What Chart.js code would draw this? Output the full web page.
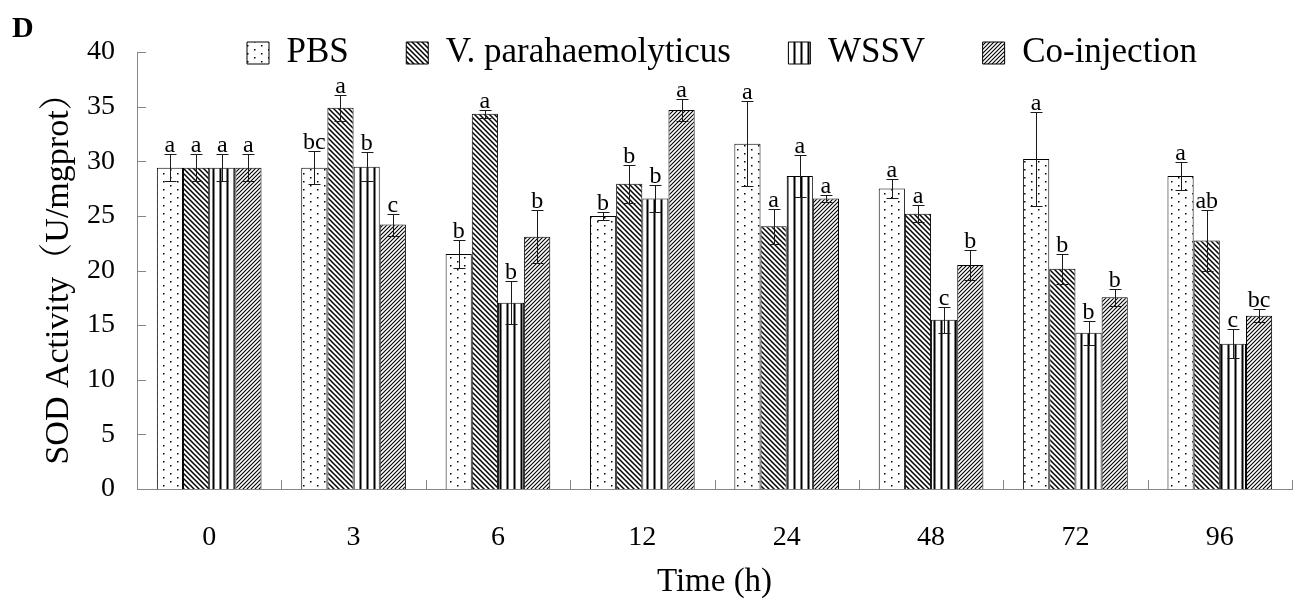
<!DOCTYPE html>
<html>
<head>
<meta charset="utf-8">
<script src="https://cdn.jsdelivr.net/npm/chart.js@4.4.1/dist/chart.umd.min.js"></script>
<style>
html,body{margin:0;padding:0;background:#fff;}
#wrap{width:1304px;height:599px;}
</style>
</head>
<body>
<div id="wrap"><canvas id="c" width="1304" height="599"></canvas></div>
<script>
// ---------- data ----------
const categories = ['0', '3', '6', '12', '24', '48', '72', '96'];
const seriesNames = ['PBS', 'V. parahaemolyticus', 'WSSV', 'Co-injection'];

const pbs      = [29.4, 29.4, 21.5, 25.0, 31.6, 27.5, 30.2, 28.65];
const pbsErr   = [1.25, 1.5, 1.3, 0.35, 3.9, 0.85, 4.3, 1.25];
const pbsSig   = ['a', 'bc', 'b', 'b', 'a', 'a', 'a', 'a'];

const vp       = [29.4, 34.9, 34.35, 27.95, 24.05, 25.2, 20.15, 22.75];
const vpErr    = [1.25, 1.2, 0.35, 1.75, 1.6, 0.75, 1.35, 2.8];
const vpSig    = ['a', 'a', 'a', 'b', 'a', 'a', 'b', 'ab'];

const wssv     = [29.4, 29.5, 17.05, 26.6, 28.65, 15.5, 14.3, 13.3];
const wssvErr  = [1.25, 1.35, 1.95, 1.2, 1.95, 1.2, 1.1, 1.35];
const wssvSig  = ['a', 'b', 'b', 'b', 'a', 'c', 'b', 'c'];

const co       = [29.4, 24.2, 23.1, 34.7, 26.6, 20.5, 17.55, 15.85];
const coErr    = [1.25, 1.0, 2.4, 1.0, 0.3, 1.4, 0.8, 0.6];
const coSig    = ['a', 'c', 'b', 'a', 'a', 'b', 'b', 'bc'];

const yMin = 0, yMax = 40, yStep = 5;
const xTitle = 'Time (h)';
const yTitle = 'SOD Activity（U/mgprot）';
const panelLabel = 'D';

// ---------- style ----------
const FONT = "'Liberation Serif', 'Times New Roman', 'Noto Serif CJK SC', 'Noto Sans CJK SC', serif";
const AXIS = '#868686';

function tile(w, h, draw) {
  const c = document.createElement('canvas');
  c.width = w; c.height = h;
  const g = c.getContext('2d');
  g.fillStyle = '#fff';
  g.fillRect(0, 0, w, h);
  draw(g, w, h);
  return g.createPattern(c, 'repeat');
}
const patDots = tile(14, 8, (g) => {
  g.fillStyle = '#000';
  g.fillRect(2, 1, 1.5, 1.5);
  g.fillRect(9, 5, 1.5, 1.5);
});
const patBack = tile(5, 5, (g, t) => {
  g.strokeStyle = '#000'; g.lineWidth = 1.5;
  g.beginPath();
  g.moveTo(-1, -1); g.lineTo(t + 1, t + 1);
  g.moveTo(-1, t - 1); g.lineTo(1, t + 1);
  g.moveTo(t - 1, -1); g.lineTo(t + 1, 1);
  g.stroke();
});
const patVert = tile(7, 4, (g) => {
  g.fillStyle = '#000';
  g.fillRect(2.5, 0, 2, 4);
});
const patFwd = tile(4, 4, (g, t) => {
  g.strokeStyle = '#000'; g.lineWidth = 1.1;
  g.beginPath();
  g.moveTo(-1, t + 1); g.lineTo(t + 1, -1);
  g.moveTo(-1, 1); g.lineTo(1, -1);
  g.moveTo(t - 1, t + 1); g.lineTo(t + 1, t - 1);
  g.stroke();
});

// ---------- plugins ----------
const legendPlace = {
  id: 'legendPlace',
  afterLayout(chart) {
    const lg = chart.legend;
    if (!lg) return;
    const pad = lg.options.labels.padding;
    const fs = lg.options.labels.font.size;
    lg.left = 247 - pad;
    lg.right = chart.width;
    lg.top = 53 - pad - fs / 2;
    lg.bottom = lg.top + 2 * pad + fs + 10;
  }
};

const inwardTicks = {
  id: 'inwardTicks',
  afterDraw(chart) {
    const {ctx, scales: {x, y}, chartArea} = chart;
    ctx.save();
    ctx.strokeStyle = AXIS;
    ctx.lineWidth = 1;
    ctx.beginPath();
    y.ticks.forEach(t => {
      const py = Math.round(y.getPixelForValue(t.value)) + 0.5;
      ctx.moveTo(chartArea.left, py);
      ctx.lineTo(chartArea.left + 9, py);
    });
    for (let k = 1; k <= categories.length; k++) {
      const px = Math.round(x.getPixelForValue(k - 0.5)) + 0.5;
      ctx.moveTo(px, chartArea.bottom);
      ctx.lineTo(px, chartArea.bottom - 9);
    }
    ctx.stroke();
    ctx.restore();
  }
};

const errorBars = {
  id: 'errorBars',
  afterDatasetsDraw(chart) {
    const {ctx} = chart;
    const y = chart.scales.y;
    ctx.save();
    chart.data.datasets.forEach((ds, i) => {
      const meta = chart.getDatasetMeta(i);
      meta.data.forEach((bar, j) => {
        const v = ds.data[j], e = ds.errors[j];
        const yt = Math.round(y.getPixelForValue(v + e)) + 0.5;
        const yb = Math.round(y.getPixelForValue(v - e)) + 0.5;
        const xc = Math.round(bar.x) + 0.5;
        ctx.strokeStyle = '#1a1a1a';
        ctx.lineWidth = 1;
        ctx.beginPath();
        ctx.moveTo(xc, yt); ctx.lineTo(xc, yb);
        ctx.moveTo(xc - 6, yt); ctx.lineTo(xc + 6, yt);
        ctx.moveTo(xc - 6, yb); ctx.lineTo(xc + 6, yb);
        ctx.stroke();
        ctx.fillStyle = '#000';
        ctx.font = '24px ' + FONT;
        ctx.textAlign = 'center';
        ctx.textBaseline = 'alphabetic';
        ctx.fillText(ds.sig[j], bar.x, yt - 3);
      });
    });
    ctx.restore();
  }
};

function ds(label, data, errors, sig, pattern) {
  return {
    label, data, errors, sig,
    backgroundColor: pattern,
    borderColor: '#000',
    borderWidth: 1,
    borderSkipped: 'start',
    categoryPercentage: 0.725,
    barPercentage: 1.0
  };
}

const ctx = document.getElementById('c').getContext('2d');
new Chart(ctx, {
  type: 'bar',
  data: {
    labels: categories,
    datasets: [
      ds(seriesNames[0], pbs, pbsErr, pbsSig, patDots),
      ds(seriesNames[1], vp, vpErr, vpSig, patBack),
      ds(seriesNames[2], wssv, wssvErr, wssvSig, patVert),
      ds(seriesNames[3], co, coErr, coSig, patFwd)
    ]
  },
  options: {
    responsive: false,
    animation: false,
    devicePixelRatio: 1,
    layout: { padding: { left: 12, right: 12, top: 0, bottom: 0 } },
    plugins: {
      title: {
        display: true, text: panelLabel, align: 'start', color: '#000',
        font: { family: FONT, size: 30, weight: 'bold', lineHeight: 1.2 },
        padding: { top: 11, bottom: 4 }
      },
      legend: {
        display: true, position: 'top', align: 'start', maxHeight: 1,
        labels: {
          boxWidth: 22, boxHeight: 22, padding: 57.5, color: '#000',
          font: { family: FONT, size: 35 }
        }
      },
      tooltip: { enabled: false }
    },
    scales: {
      x: {
        grid: { display: false, drawTicks: false },
        border: { display: true, color: AXIS, width: 1 },
        ticks: { color: '#000', font: { family: FONT, size: 28 }, padding: 32, maxRotation: 0, autoSkip: false },
        title: { display: true, text: xTitle, color: '#000', font: { family: FONT, size: 33, lineHeight: 1.0 }, padding: 0 },
        afterFit(s) { s.height = 110; }
      },
      y: {
        min: yMin, max: yMax,
        grid: { display: false, drawTicks: false },
        border: { display: true, color: AXIS, width: 1 },
        ticks: { stepSize: yStep, color: '#000', font: { family: FONT, size: 28 }, padding: 22 },
        title: { display: true, text: yTitle, color: '#000', font: { family: FONT, size: 34, lineHeight: 1.2 }, padding: { top: 27, bottom: 0 } },
        afterFit(s) { s.width = 125; }
      }
    }
  },
  plugins: [legendPlace, inwardTicks, errorBars]
});
</script>
</body>
</html>
